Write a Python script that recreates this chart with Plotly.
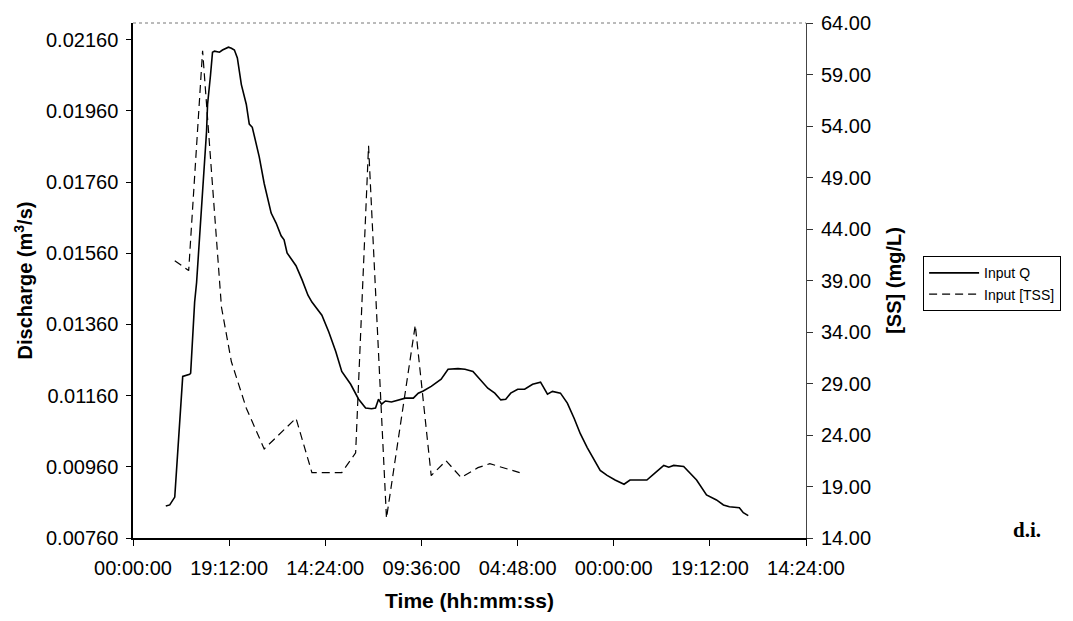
import plotly.graph_objects as go

# Elapsed time (hours) and discharge for the input hydrograph
q_hours = [6.55, 7.34, 8.34, 9.93, 11.31, 11.51, 12.31, 12.70, 14.69, 14.89, 15.48, 15.88,
           16.28, 17.27, 17.87, 18.46, 19.06, 19.65, 20.25, 20.84, 21.64, 22.63, 23.22,
           23.82, 25.21, 26.20, 27.59, 28.58, 29.58, 30.17, 30.77, 32.55, 33.75, 34.94,
           35.73, 37.72, 39.10, 40.49, 41.69, 43.47, 45.06, 46.45, 47.64, 48.43, 49.03,
           49.63, 50.42, 51.61, 53.00, 54.39, 55.98, 56.97, 57.96, 59.55, 61.54, 62.92,
           64.91, 66.30, 67.89, 69.28, 70.86, 72.25, 73.45, 74.44, 75.43, 76.82, 78.21,
           79.80, 81.39, 82.77, 83.77, 85.36, 86.74, 88.13, 89.33, 90.71, 92.10, 93.30,
           94.68, 96.27, 98.06, 99.25, 101.24, 102.62, 104.21, 106.00, 106.99, 107.98,
           109.97, 111.16, 112.55, 114.53, 116.52, 117.91, 119.10, 121.09, 121.88, 122.87]
q_values = [0.00850, 0.00853, 0.00875, 0.01214, 0.01220, 0.01223, 0.01423, 0.01478, 0.01903,
            0.01978, 0.02061, 0.02125, 0.02128, 0.02125, 0.02131, 0.02134, 0.02139, 0.02136,
            0.02131, 0.02109, 0.02034, 0.01978, 0.01923, 0.01914, 0.01831, 0.01756, 0.01673,
            0.01645, 0.01609, 0.01598, 0.01561, 0.01525, 0.01486, 0.01442, 0.01423, 0.01386,
            0.01339, 0.01284, 0.01228, 0.01192, 0.01150, 0.01125, 0.01123, 0.01125, 0.01150,
            0.01136, 0.01145, 0.01142, 0.01148, 0.01153, 0.01153, 0.01167, 0.01173, 0.01186,
            0.01206, 0.01234, 0.01236, 0.01234, 0.01228, 0.01206, 0.01181, 0.01167, 0.01148,
            0.01150, 0.01167, 0.01178, 0.01178, 0.01192, 0.01198, 0.01164, 0.01172, 0.01167,
            0.01139, 0.01095, 0.01053, 0.01014, 0.00978, 0.00950, 0.00936, 0.00923, 0.00911,
            0.00923, 0.00923, 0.00923, 0.00942, 0.00964, 0.00959, 0.00964, 0.00961, 0.00942,
            0.00923, 0.00881, 0.00867, 0.00853, 0.00848, 0.00845, 0.00831, 0.00823]

# Sampled suspended sediment concentration
tss_hours = [8.34, 11.12, 13.90, 17.67, 19.65, 22.63, 26.20, 32.55, 35.73, 41.69, 44.46,
             47.04, 50.62, 56.37, 59.55, 62.53, 65.51, 68.88, 71.26, 73.84, 77.22]
tss_values = [40.92, 39.96, 61.31, 36.40, 31.11, 26.60, 22.65, 25.63, 20.35, 20.35, 22.27,
              52.08, 15.92, 34.67, 20.06, 21.50, 19.87, 20.83, 21.21, 20.83, 20.35]

# Axis ticks
x_tick_hours = [0, 19.2, 38.4, 57.6, 76.8, 96.0, 115.2, 134.4]
x_tick_text = ["00:00:00", "19:12:00", "14:24:00", "09:36:00", "04:48:00",
               "00:00:00", "19:12:00", "14:24:00"]
q_ticks = [0.0076, 0.0096, 0.0116, 0.0136, 0.0156, 0.0176, 0.0196, 0.0216]
ss_ticks = [14, 19, 24, 29, 34, 39, 44, 49, 54, 59, 64]

FONT = "Liberation Sans, Arial, sans-serif"

fig = go.Figure()
fig.add_trace(go.Scatter(
    x=q_hours, y=q_values, mode="lines", name="Input Q",
    line=dict(color="black", width=1.6), yaxis="y"))
fig.add_trace(go.Scatter(
    x=tss_hours, y=tss_values, mode="lines", name="Input [TSS]",
    line=dict(color="black", width=1.2, dash="8px,5px"), yaxis="y2"))

fig.update_layout(
    width=1073, height=621,
    margin=dict(l=133, r=263, t=17, b=83),
    paper_bgcolor="white", plot_bgcolor="white",
    font=dict(family=FONT, size=20, color="black"),
    showlegend=True,
    legend=dict(
        x=1.174, y=0.547, xanchor="left", yanchor="top",
        bordercolor="black", borderwidth=1, bgcolor="white",
        font=dict(family=FONT, size=14), tracegroupgap=0, itemwidth=50,
    ),
    xaxis=dict(
        range=[0, 134.4], tickvals=x_tick_hours, ticktext=x_tick_text,
        showgrid=False, zeroline=False, showline=True, linecolor="black", linewidth=1.5,
        ticks="outside", ticklen=6, tickcolor="black", ticklabelstandoff=5,
        title=dict(text="<b>Time (hh:mm:ss)</b>", font=dict(size=21), standoff=16),
    ),
    yaxis=dict(
        range=[0.0076, 0.02207], tickvals=q_ticks, tickformat=".5f",
        showgrid=False, zeroline=False, showline=True, linecolor="black", linewidth=1.5,
        ticks="outside", ticklen=5, tickcolor="black", ticklabelstandoff=4,
        title=dict(text="<b>Discharge (m<sup>3</sup>/s)</b>", font=dict(size=20), standoff=8),
    ),
    yaxis2=dict(
        range=[14, 64], tickvals=ss_ticks, tickformat=".2f",
        overlaying="y", side="right",
        showgrid=False, zeroline=False, showline=True, linecolor="#444", linewidth=1,
        ticks="outside", ticklen=6, tickcolor="#333", ticklabelstandoff=4,
        title=dict(text="<b>[SS] (mg/L)</b>", font=dict(size=20), standoff=16),
    ),
)

# Dotted frame along the top of the plotting area
fig.add_shape(type="line", xref="paper", yref="paper", x0=0, x1=1, y0=1, y1=1,
              line=dict(color="#777", width=1, dash="dot"))

fig.add_annotation(text="<b>d.i.</b>", xref="paper", yref="paper",
                   x=1.329, y=0.015, xanchor="center", yanchor="middle", showarrow=False,
                   font=dict(family="Liberation Serif, Times New Roman, serif", size=21))

fig.write_html("out.html")
